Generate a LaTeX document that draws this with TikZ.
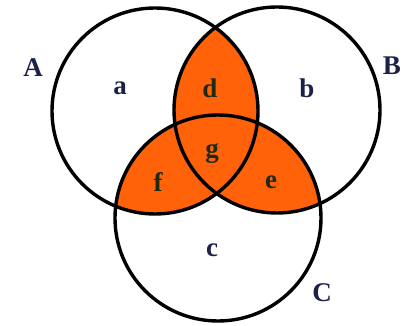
\documentclass[tikz,border=0pt]{standalone}
\usepackage{fontspec}
\setmainfont{Liberation Serif}
\usepackage{tikz}
\definecolor{cOr}{HTML}{FF6208}
\definecolor{cLab}{HTML}{1C2148}
\definecolor{cIn}{HTML}{1E2A12}
\tikzset{
  ring/.style={line width=3.4pt, black},
  ovl/.style={fill=cOr},
  setlab/.style={font=\bfseries\fontsize{27}{30}\selectfont, text=cLab, inner sep=0pt},
  reglab/.style={font=\bfseries\fontsize{27}{30}\selectfont, text=cLab, inner sep=0pt},
  inlab/.style={font=\bfseries\fontsize{27}{30}\selectfont, text=cIn, inner sep=0pt},
}
\newcommand{\Rad}{103}
\newcommand{\lens}[2]{\begin{scope}\clip (#1) circle[radius=\Rad];\fill[ovl] (#2) circle[radius=\Rad];\end{scope}}

\begin{document}
\begin{tikzpicture}[x=1pt, y=-1pt]
\useasboundingbox (0,0) rectangle (418,326);
\coordinate (cA) at (155,111);
\coordinate (cB) at (277,110);
\coordinate (cC) at (218,218);
% pairwise overlaps
\lens{cA}{cB}
\lens{cA}{cC}
\lens{cB}{cC}
\foreach \c in {cA,cB,cC} {\draw[ring] (\c) circle[radius=\Rad];}
% set names
\node[setlab] (labA) at (33,68) {A};
\node[setlab] (labB) at (392,66) {B};
\node[setlab] (labC) at (322,293) {C};
% regions
\foreach \n/\x/\y in {a/120/88, b/307/88, c/212/250} {\node[reglab] (r\n) at (\x,\y) {\n};}
\foreach \n/\x/\y in {d/210/88, g/212/154, f/158/182, e/271/182} {\node[inlab] (r\n) at (\x,\y) {\n};}
\end{tikzpicture}
\end{document}
